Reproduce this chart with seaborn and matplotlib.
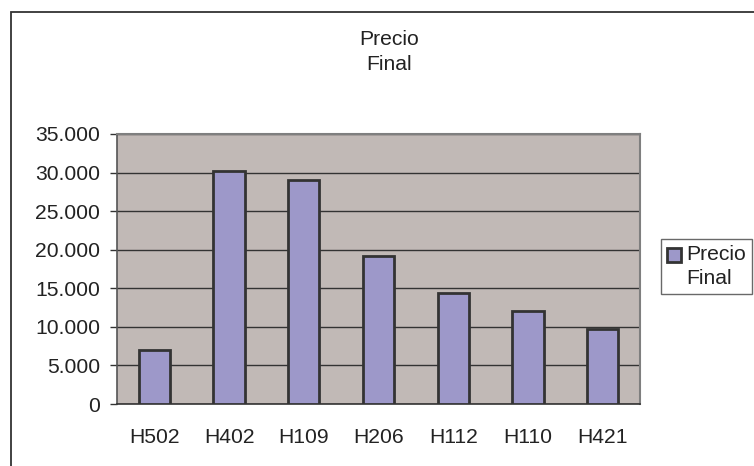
import matplotlib
matplotlib.use("Agg")
import matplotlib.pyplot as plt
import seaborn as sns
import pandas as pd
from matplotlib.patches import Patch, Rectangle
from matplotlib.ticker import FuncFormatter, FixedLocator

categories = ["H502", "H402", "H109", "H206", "H112", "H110", "H421"]
values = [7000, 30200, 29000, 19200, 14400, 12100, 9700]
series_name = "Precio\nFinal"
title_text = "Precio\nFinal"
y_ticks = [0, 5000, 10000, 15000, 20000, 25000, 30000, 35000]

sns.set_theme(style="white")
plt.rcParams["font.family"] = ["Liberation Sans", "DejaVu Sans"]

bar_color = "#9D98C9"
bg_color = "#C1B9B6"
text_color = "#222222"
fs = 15.2

df = pd.DataFrame({"cat": categories, "val": values})

fig = plt.figure(figsize=(7.54, 4.66), dpi=100)
ax = fig.add_axes([117/754, 1-404/466, (640-117)/754, (404-134)/466])
ax.set_facecolor(bg_color)

sns.barplot(data=df, x="cat", y="val", color=bar_color, width=0.42,
            edgecolor="#333333", linewidth=2, saturation=1, ax=ax, zorder=3)

ax.set_xlim(-0.5, len(categories) - 0.5)
ax.set_ylim(0, 35000)
ax.yaxis.set_major_locator(FixedLocator(y_ticks))
ax.yaxis.set_major_formatter(FuncFormatter(lambda v, p: f"{int(v):,}".replace(",", ".")))
ax.grid(axis="y", color="#333333", linewidth=1.0, zorder=1)
ax.set_axisbelow(True)

ax.set_xlabel("")
ax.set_ylabel("")

ax.set_xticks([i for i in range(len(categories))])
ax.set_xticklabels(categories)
ax.tick_params(axis="x", which="major", length=0, pad=17, labelsize=fs, colors=text_color)
ax.set_xticks([i - 0.5 for i in range(len(categories) + 1)], minor=True)
ax.tick_params(axis="x", which="minor", length=4.5, width=1, color="#333333", direction="out")
ax.tick_params(axis="y", length=5, width=1, color="#333333", direction="out", pad=7,
               labelsize=fs, labelcolor=text_color, left=True)

for side in ["top", "right"]:
    ax.spines[side].set_color("#7F7F7F")
    ax.spines[side].set_linewidth(1.5)
ax.spines["left"].set_color("#555555")
ax.spines["bottom"].set_color("#333333")
ax.spines["left"].set_linewidth(1.2)
ax.spines["bottom"].set_linewidth(1.2)

fig.text(389/754, 1-30/466, title_text, ha="center", va="top", fontsize=fs,
         color=text_color, linespacing=1.4)

frame = Rectangle((11/754, -0.1), 1.2, 1 - 12/466 + 0.1, transform=fig.transFigure,
                  fill=False, edgecolor="#333333", linewidth=1.3, clip_on=False)
fig.add_artist(frame)

handle = Patch(facecolor=bar_color, edgecolor="#333333", linewidth=2)
leg = fig.legend([handle], [series_name], loc="upper left",
                 bbox_to_anchor=(661/754, 1-239/466), bbox_transform=fig.transFigure,
                 fontsize=fs, frameon=True, fancybox=False, borderaxespad=0,
                 handlelength=0.65, handleheight=0.65, handletextpad=0.25,
                 borderpad=0.3, labelcolor=text_color)
leg.get_frame().set_edgecolor("#444444")
leg.get_frame().set_linewidth(1.0)
for t in leg.get_texts():
    t.set_linespacing(1.3)
for p in leg.get_patches():
    p.set_y(p.get_y() + 8.5)

fig.savefig("out.png", dpi=100)
